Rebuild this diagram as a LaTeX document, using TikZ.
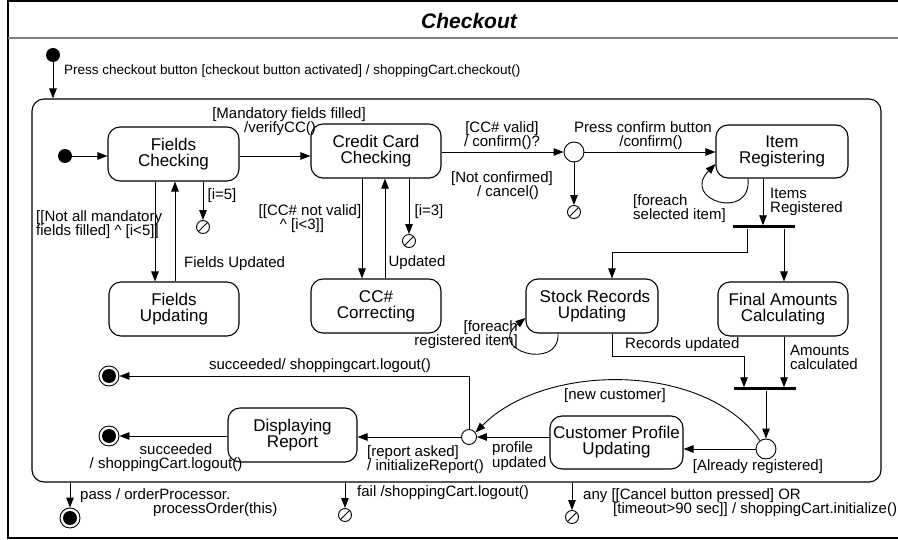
\documentclass[tikz,border=0pt]{standalone}
\usepackage{fontspec}
\setmainfont{Liberation Sans}
\usetikzlibrary{arrows.meta,calc}

\tikzset{
  stbox/.style={draw, rounded corners=12pt, minimum width=130pt, minimum height=54pt,
    align=center, inner sep=0pt, line width=1.1pt,
    font=\fontsize{17pt}{16pt}\selectfont},
  lbl/.style={inner sep=0pt, font=\fontsize{15pt}{14pt}\selectfont},
  tightlbl/.style={lbl, font=\fontsize{15pt}{13pt}\selectfont},
  tr/.style={draw, line width=0.9pt, -{Triangle[length=10pt,width=7.5pt]}},
  initdot/.style={circle, fill, minimum size=14pt, inner sep=0pt},
  finalst/.style={circle, draw, line width=0.9pt, minimum size=20pt, inner sep=0pt,
    path picture={\fill (path picture bounding box.center) circle (7pt);}},
  choicept/.style={circle, draw, fill=white, minimum size=20pt, inner sep=0pt, line width=0.9pt},
  juncpt/.style={circle, draw, fill=white, minimum size=15pt, inner sep=0pt, line width=0.9pt},
  termpt/.style={circle, draw, minimum size=13pt, inner sep=0pt, line width=0.9pt,
    path picture={\draw[line width=0.9pt] (path picture bounding box.south west) -- (path picture bounding box.north east);}},
  syncbar/.style={fill, minimum height=3pt, minimum width=62pt, inner sep=0pt},
}

\begin{document}
\begin{tikzpicture}[x=1pt, y=-1pt]
\useasboundingbox (0,0) rectangle (898,540);

% outer frame and title
\draw[line width=2pt] (898,1) -- (8,1) -- (8,538) -- (898,538);
\draw[line width=2pt, gray] (8,38) -- (898,38);
\node[inner sep=0pt, font=\fontsize{21pt}{21pt}\selectfont\bfseries\itshape] (title) at (469,21) {Checkout};

% composite state
\node[draw, rounded corners=12pt, minimum width=849pt, minimum height=383pt, line width=1.1pt] (super) at (456.5,290.5) {};

% pseudostates
\node[initdot] (i1) at (53,55) {};
\node[initdot] (i2) at (65,156) {};
\node[choicept] (ch1) at (574,152) {};
\node[choicept] (ch2) at (766,449) {};
\node[juncpt] (junc) at (469,437) {};
\node[termpt] (t1) at (203,227) {};
\node[termpt] (t2) at (409,241) {};
\node[termpt] (t3) at (574,212) {};
\node[termpt] (t4) at (345,515) {};
\node[termpt] (t5) at (572,517) {};
\node[finalst] (f1) at (109,376) {};
\node[finalst] (f2) at (109,436) {};
\node[finalst] (f3) at (70,518) {};
\node[syncbar] (fork) at (764,227) {};
\node[syncbar] (join) at (764.5,389) {};

% states
\node[stbox, minimum width=131pt] (fc) at (173.5,154) {Fields\\Checking};
\node[stbox] (cc) at (376,151) {Credit Card\\Checking};
\node[stbox] (fu) at (174,309) {Fields\\Updating};
\node[stbox] (ccc) at (376,306) {CC\#\\Correcting};
\node[stbox, minimum width=132pt, minimum height=53pt] (ir) at (782,151.5) {Item\\Registering};
\node[stbox, minimum width=132pt] (sr) at (592,306) {\hspace*{6pt}Stock Records\\Updating};
\node[stbox] (fa) at (783,309) {Final Amounts\\Calculating};
\node[stbox, minimum width=133pt, minimum height=53pt] (cp) at (616.5,442.5) {Customer Profile\\Updating};
\node[stbox, minimum width=129pt] (dr) at (292.5,435) {Displaying\\Report};

% transitions
\draw[tr] (i1) -- (i1 |- super.north);
\draw[tr] (i2) -- (i2 -| fc.west);
\draw[tr] (fc.east |- i2) -- (i2 -| cc.west);
\draw[tr] (fc.south -| 155,0) -- (fu.north -| 155,0);
\draw[tr] (fu.north -| 175,0) -- (fc.south -| 175,0);
\draw[tr] (fc.south -| t1) -- (t1);
\draw[tr] (cc.south -| 362,0) -- (ccc.north -| 362,0);
\draw[tr] (ccc.north -| 385,0) -- (cc.south -| 385,0);
\draw[tr] (cc.south -| t2) -- (t2);
\draw[tr] (cc.east |- ch1) -- (ch1);
\draw[tr] (ch1) -- (ch1 -| ir.west);
\draw[tr] (ch1) -- (t3);
\draw[tr] (ir.south -| 748,0) .. controls (752,222) and (680,200) .. (ir.west |- 0,164);
\draw[tr] (ir.south -| 763,0) -- (fork.north -| 763,0);
\draw[tr] (fork.south -| 747,0) |- (612,252) -- (sr.north -| 612,0);
\draw[tr] (fork.south -| 784,0) -- (fa.north -| 784,0);
\draw[tr] (sr.south -| 558,0) .. controls (560,372) and (485,350) .. (sr.west |- 0,318);
\draw[tr] (sr.south -| 612,0) |- (744,356) -- (join.north -| 744,0);
\draw[tr] (fa.south -| 784,0) -- (join.north -| 784,0);
\draw[tr] (join.south -| ch2) -- (ch2);
\draw[tr] (ch2) -- (ch2 -| cp.east);
\draw[tr] (ch2.126) .. controls (705,362) and (545,362) .. (junc.35);
\draw[tr] (cp.west |- junc) -- (junc);
\draw[tr] (junc) -- (junc -| dr.east);
\draw[tr] (junc) |- (f1);
\draw[tr] (dr.west |- f2) -- (f2);
\draw[tr] (f3 |- super.south) -- (f3);
\draw[tr] (t4 |- super.south) -- (t4);
\draw[tr] (t5 |- super.south) -- (t5);

% labels
\node[lbl, anchor=west, font=\fontsize{13.5pt}{13.5pt}\selectfont] (l1) at (64,71) {Press checkout button [checkout button activated] / shoppingCart.checkout()};
\node[lbl, align=center] (l2) at (289,122) {[Mandatory fields filled]\\/verifyCC()\hspace*{18pt}};
\node[lbl, align=center] (l3) at (502,136) {[CC\# valid]\\/ confirm()?};
\node[lbl, align=center] (l4) at (643,136) {Press confirm button\\\hspace*{16pt}/confirm()};
\node[lbl, align=center] (l5) at (502,186) {[Not confirmed]\\\hspace*{12pt}/ cancel()};
\node[lbl, anchor=west, align=left] (l6) at (36,225) {[[Not all mandatory\\fields filled] \textasciicircum{} [i<5]]};
\node[lbl, anchor=west] (l7) at (184,264) {Fields Updated};
\node[lbl] (l8) at (222,196) {[i=5]};
\node[lbl, align=center] (l9) at (310,219) {[[CC\# not valid]\\\textasciicircum{} [i<3]]\hspace*{16pt}};
\node[lbl] (l10) at (417,263) {Updated};
\node[lbl] (l11) at (429,212) {[i=3]};
\node[lbl, anchor=west, align=left] (l12) at (633,209) {[foreach\\selected item]};
\node[lbl, anchor=west, align=left] (l13) at (770,202) {Items\\Registered};
\node[lbl, anchor=east, align=right] (l14) at (518,335) {[foreach\\registered item]};
\node[lbl, anchor=west] (l15) at (625,345) {Records updated};
\node[lbl, anchor=west, align=left] (l16) at (790,357) {Amounts\\calculated};
\node[lbl] (l17) at (615,396) {[new customer]};
\node[lbl] (l18) at (758,467) {[Already registered]};
\node[tightlbl, anchor=west, align=left] (l19) at (492,456) {profile\\updated};
\node[lbl, anchor=west, align=left] (l20) at (367,460) {[report asked]\\/ initializeReport()};
\node[lbl] (l21) at (320,366) {succeeded/ shoppingcart.logout()};
\node[lbl, align=center] (l22) at (166,458) {\hspace*{20pt}succeeded\\/ shoppingCart.logout()};
\node[lbl, anchor=west, align=left] (l23) at (80,503) {pass / orderProcessor.\\\hspace*{73pt}processOrder(this)};
\node[lbl, anchor=west] (l24) at (357,493) {fail /shoppingCart.logout()};
\node[lbl, anchor=west, align=left] (l25) at (583,503) {any [[Cancel button pressed] OR\\\hspace*{30pt}[timeout>90 sec]] / shoppingCart.initialize()};

\end{tikzpicture}
\end{document}
